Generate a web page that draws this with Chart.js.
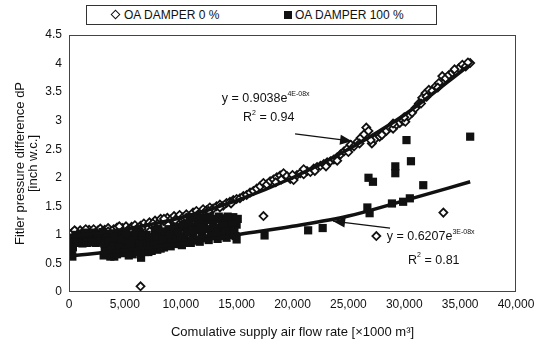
<!DOCTYPE html>
<html>
<head>
<meta charset="utf-8">
<script src="https://cdn.jsdelivr.net/npm/chart.js@4.4.0/dist/chart.umd.min.js"></script>
<style>
  body { margin: 0; background: #fff; }
  #wrap { position: relative; width: 543px; height: 347px; }
  #legend {
    position: absolute; left: 86px; top: 5px; width: 351px; height: 20px;
    box-sizing: border-box; border: 1px solid #333; background: #fff;
    font: 12px "Liberation Sans", Arial, sans-serif; color: #111;
  }
  #legend .item { position: absolute; top: 2px; white-space: nowrap; }
  #legend .dia {
    display: inline-block; width: 5px; height: 5px; border: 1.5px solid #111;
    background: #fff; transform: rotate(45deg); margin-right: 5px; vertical-align: 1px;
  }
  #legend .sq {
    display: inline-block; width: 8px; height: 8px; background: #111;
    margin-right: 3px; vertical-align: 0px;
  }
</style>
</head>
<body>
<div id="wrap">
  <canvas id="grafico" width="543" height="347"></canvas>
  <div id="legend">
    <span class="item" style="left:25px"><span class="dia"></span>OA DAMPER 0 %</span>
    <span class="item" style="left:197px"><span class="sq"></span>OA DAMPER 100 %</span>
  </div>
</div>
<script>
// OA DAMPER 0 % (diamonds)
var damper0X = [150,300,450,600,800,1000,1200,1400,1600,1800,2000,2200,2400,2600,2800,3000,
	3200,3500,3700,4000,4300,4500,4800,5100,5300,5600,5900,6100,6400,6700,6900,
	7200,7400,7700,8000,8200,8500,8800,9100,9400,9700,9900,
	10200,10500,10800,11100,11400,11700,12000,12300,12600,12900,13200,13500,13800,14100,14400,14700,15000,
	15300,15600,15900,16200,16500,16800,17100,17400,17700,18000,18300,18600,18900,19200,19500,19800,20100,
	20400,20700,21000,21300,21600,21900,22200,22500,22800,23100,23400,23700,24000,24300,24600,24900,
	25200,25500,25800,26100,26400,26600,26800,27100,27400,27800,28100,28400,28700,29000,29300,29600,29900,
	30100,30400,30700,31000,31300,31600,31900,32200,32500,32800,33100,33400,33700,34000,34300,34600,34900,35200,35500,35900,
	500,1500,2500,3500,4500,5500,6500,7500,8500,9500,10500,11500,12500,13500,14500,
	18500,19000,20000,21000,22000,23000,24000,25000,26000,27000,28000,29000,30000,31500,32000,33000,34500,35700,
	6400,17400,33500,27500];
var damper0Y = [1.00,1.04,0.98,1.06,1.02,1.08,1.03,1.07,1.01,1.09,1.05,1.10,1.04,1.08,1.11,1.06,
	1.09,1.12,1.05,1.10,1.13,1.07,1.12,1.15,1.09,1.14,1.17,1.11,1.16,1.20,1.14,
	1.22,1.17,1.25,1.21,1.28,1.24,1.30,1.27,1.33,1.29,1.35,
	1.31,1.36,1.33,1.39,1.42,1.38,1.45,1.43,1.48,1.46,1.50,1.53,1.51,1.56,1.58,1.61,1.63,
	1.64,1.68,1.70,1.74,1.77,1.81,1.85,1.91,1.88,1.94,1.97,2.01,2.04,2.08,2.03,1.98,1.96,
	2.05,2.08,2.06,2.12,2.10,2.16,2.19,2.21,2.24,2.27,2.29,2.32,2.36,2.41,2.46,2.51,
	2.58,2.55,2.63,2.70,2.76,2.88,2.82,2.60,2.68,2.72,2.78,2.82,2.88,2.86,2.93,2.96,3.00,
	2.98,3.08,3.14,3.22,3.30,3.40,3.48,3.54,3.52,3.60,3.66,3.78,3.74,3.80,3.84,3.86,3.92,3.98,3.95,4.01,
	1.08,1.10,1.00,1.06,1.15,1.10,1.12,1.20,1.28,1.26,1.30,1.35,1.42,1.48,1.55,
	1.92,1.97,2.05,2.15,2.12,2.20,2.30,2.45,2.60,2.66,2.75,2.95,3.06,3.30,3.42,3.58,3.90,4.02,
	0.10,1.33,1.39,0.98];

// OA DAMPER 100 % (squares)
var damper100X = [100,150,200,250,350,450,300,50,120,
	700,900,1100,1300,1500,1700,1900,2100,2300,2500,2700,2900,
	600,800,1000,1200,1400,1600,1800,2000,2200,2400,2600,2800,3000,
	3100,3200,3300,3450,3600,3750,3900,4050,4200,4350,4500,4650,4800,4950,
	3150,3350,3550,3700,3900,4100,4300,4550,4700,4900,
	5100,5300,5500,5700,5900,6100,6300,6450,6600,6800,6950,
	5150,5350,5550,5750,5950,6150,6350,6600,6800,7000,
	7100,7300,7500,7700,7900,8100,8300,8500,8700,8900,9100,9300,9500,9700,9900,
	7200,7400,7600,7800,8000,8200,8400,8600,8800,9000,9200,9400,9600,9800,10000,
	10100,10300,10500,10700,10900,11100,11300,11500,11700,11900,12100,12300,12500,12700,12900,13100,
	13300,13500,13700,13900,14100,14300,14500,14700,14900,15000,15100,
	10200,10400,10600,10800,11000,11200,11400,11600,11800,12000,12200,12400,12600,12800,13000,
	13200,13400,13600,13800,14000,14200,14400,14600,14800,15000,
	17500,21400,22700,26700,26900,28900,29900,30500,31700,26800,27200,29200,29200,30600,30200,35900];
var damper100Y = [0.66,0.74,0.82,0.70,0.78,0.88,0.62,0.92,0.86,
	0.92,0.96,0.89,0.94,0.98,0.90,0.95,0.99,0.91,0.96,1.00,0.93,
	1.00,0.86,1.02,0.85,1.04,0.86,1.03,0.87,1.04,0.86,1.02,0.88,1.05,
	0.64,0.78,0.92,1.02,0.70,0.85,0.97,0.62,0.76,0.90,1.03,0.68,0.82,0.95,
	0.85,0.70,0.88,0.62,0.80,0.95,0.66,0.80,0.92,0.70,
	0.72,0.86,0.99,0.66,0.80,0.93,1.05,0.60,0.75,0.88,1.00,
	1.02,0.64,0.78,0.92,1.04,0.70,0.85,0.98,0.70,0.85,
	0.70,0.83,0.96,1.08,0.74,0.87,1.00,0.78,0.92,1.10,0.80,0.95,1.05,0.84,1.14,
	0.95,0.72,0.86,0.98,1.10,0.76,0.92,1.06,0.82,1.00,0.86,1.14,0.92,1.04,0.90,
	0.82,0.97,1.10,1.20,0.86,1.00,1.14,1.24,0.88,1.03,1.17,1.26,0.91,1.06,1.19,1.28,
	0.93,1.09,1.22,1.29,0.95,1.12,1.24,1.31,0.98,1.18,1.28,
	1.18,0.86,1.04,1.28,0.90,1.08,1.30,0.92,1.12,1.30,0.94,1.10,1.32,0.98,1.13,
	1.04,1.32,0.98,1.16,1.05,1.32,1.00,1.18,1.08,0.92,
	0.99,1.08,1.12,1.48,1.38,1.55,1.58,1.64,1.87,2.00,1.93,2.20,2.08,2.29,2.66,2.72];

// trend lines
var fit0X = [0,5000,10000,15000,20000,25000,30000,35800];
var fit0Y = [0.97,1.10,1.30,1.60,2.00,2.50,3.10,3.97];
var fit100X = [0,5000,10000,15000,20000,25000,30000,35900];
var fit100Y = [0.63,0.73,0.85,1.00,1.15,1.33,1.60,1.93];

var xTickLabels = ['0','5,000','10,000','15,000','20,000','25,000','30,000','35,000','40,000'];
var yTickLabels = ['0','0.5','1','1.5','2','2.5','3','3.5','4','4.5'];

function puntos(xs, ys){
	var out = [];
	for (var i = 0; i < xs.length; i++) out.push({x: xs[i], y: ys[i]});
	return out;
}

var fuente = '"Liberation Sans", Arial, sans-serif';

// equation labels and arrows (anchored in data units)
var notas = {
	eq0:  {x: 13670, y: 3.38, base: 'y = 0.9038e', sup: '4E-08x'},
	r0:   {x: 15570, y: 3.05, base: 'R', sup: '2', rest: ' = 0.94'},
	eq100:{x: 28430, y: 0.965, base: 'y = 0.6207e', sup: '3E-08x'},
	r100: {x: 30340, y: 0.556, base: 'R', sup: '2', rest: ' = 0.81'},
	arrow0:  {x1: 20230, y1: 2.77, x2: 25330, y2: 2.64},
	arrow100:{x1: 28730, y1: 1.12, x2: 23630, y2: 1.24}
};

var marcoYNotas = {
	id: 'marcoYNotas',
	afterDatasetsDraw: function(chart){
		var ctx = chart.ctx, a = chart.chartArea;
		var sx = chart.scales.x, sy = chart.scales.y;
		ctx.save();
		ctx.strokeStyle = '#444';
		ctx.lineWidth = 1;
		ctx.strokeRect(a.left + 0.5, a.top + 0.5, a.right - a.left - 1, a.bottom - a.top - 1);

		ctx.fillStyle = '#111';
		ctx.textBaseline = 'middle';
		function texto(n){
			var px = sx.getPixelForValue(n.x), py = sy.getPixelForValue(n.y);
			ctx.font = '12.5px ' + fuente;
			ctx.fillText(n.base, px, py);
			px += ctx.measureText(n.base).width;
			ctx.font = '7px ' + fuente;
			ctx.fillText(n.sup, px, py - 5);
			px += ctx.measureText(n.sup).width;
			if (n.rest){
				ctx.font = '12.5px ' + fuente;
				ctx.fillText(n.rest, px, py);
			}
		}
		texto(notas.eq0); texto(notas.r0); texto(notas.eq100); texto(notas.r100);

		function flecha(n){
			var x1 = sx.getPixelForValue(n.x1), y1 = sy.getPixelForValue(n.y1);
			var x2 = sx.getPixelForValue(n.x2), y2 = sy.getPixelForValue(n.y2);
			var ang = Math.atan2(y2 - y1, x2 - x1);
			ctx.strokeStyle = '#111';
			ctx.lineWidth = 1.3;
			ctx.beginPath(); ctx.moveTo(x1, y1); ctx.lineTo(x2, y2); ctx.stroke();
			ctx.beginPath();
			ctx.moveTo(x2, y2);
			ctx.lineTo(x2 - 12*Math.cos(ang) + 5*Math.sin(ang), y2 - 12*Math.sin(ang) - 5*Math.cos(ang));
			ctx.lineTo(x2 - 12*Math.cos(ang) - 5*Math.sin(ang), y2 - 12*Math.sin(ang) + 5*Math.cos(ang));
			ctx.closePath();
			ctx.fill();
		}
		flecha(notas.arrow0); flecha(notas.arrow100);
		ctx.restore();
	}
};

new Chart(document.getElementById('grafico').getContext('2d'), {
	type: 'scatter',
	data: {
		datasets: [{
			label: 'fit 0',
			type: 'line',
			data: puntos(fit0X, fit0Y),
			showLine: true,
			borderColor: '#111',
			borderWidth: 3.5,
			pointRadius: 0,
			cubicInterpolationMode: 'monotone',
			order: 0
		},{
			label: 'fit 100',
			type: 'line',
			data: puntos(fit100X, fit100Y),
			showLine: true,
			borderColor: '#111',
			borderWidth: 3.5,
			pointRadius: 0,
			cubicInterpolationMode: 'monotone',
			order: 0
		},{
			label: 'OA DAMPER 100 %',
			data: puntos(damper100X, damper100Y),
			pointStyle: 'rect',
			pointRadius: 5.8,
			backgroundColor: '#111',
			borderColor: '#111',
			borderWidth: 0,
			order: 1
		},{
			label: 'OA DAMPER 0 %',
			data: puntos(damper0X, damper0Y),
			pointStyle: 'rectRot',
			pointRadius: 4,
			backgroundColor: '#fff',
			borderColor: '#111',
			borderWidth: 1.8,
			order: 2
		}]
	},
	options: {
		responsive: false,
		animation: false,
		layout: { padding: { top: 35, right: 27, left: 0, bottom: 0 } },
		plugins: { legend: { display: false }, tooltip: { enabled: false } },
		scales: {
			x: {
				type: 'linear', min: 0, max: 40000,
				afterFit: function(s){ s.height = 55; },
				grid: { display: false, drawTicks: false },
				border: { display: false },
				ticks: {
					stepSize: 5000, padding: 5, maxRotation: 0, autoSkip: false,
					color: '#111', font: { family: fuente, size: 12 },
					callback: function(v, i){ return xTickLabels[i]; }
				},
				title: {
					display: true,
					text: 'Comulative supply air flow rate [\u00d71000 m\u00b3]',
					color: '#111', font: { family: fuente, size: 13 },
					padding: { top: 0, bottom: 7 }
				}
			},
			y: {
				min: 0, max: 4.5,
				afterFit: function(s){ s.width = 69; },
				grid: { display: false, drawTicks: false },
				border: { display: false },
				ticks: {
					stepSize: 0.5, padding: 7, autoSkip: false,
					color: '#111', font: { family: fuente, size: 12 },
					callback: function(v, i){ return yTickLabels[i]; }
				},
				title: {
					display: true,
					text: ['Fitler pressure difference dP', '[inch w.c.]'],
					color: '#111', font: { family: fuente, size: 13, lineHeight: 1.0 },
					padding: { top: 14, bottom: 0 }
				}
			}
		}
	},
	plugins: [marcoYNotas]
});
</script>
</body>
</html>
